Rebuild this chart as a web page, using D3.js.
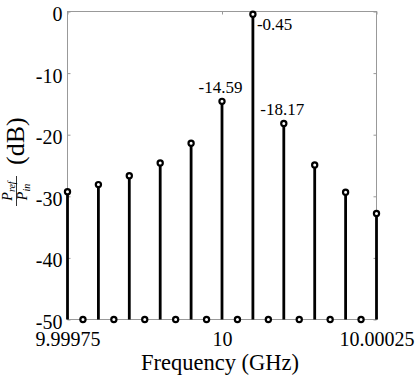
<!DOCTYPE html>
<html>
<head>
<meta charset="utf-8">
<script src="https://cdn.jsdelivr.net/npm/d3@7"></script>
<style>
  body { margin: 0; background: #fff; }
  svg { display: block; }
  svg text { font-family: 'Liberation Serif', 'Times New Roman', serif; fill: #000; }
</style>
</head>
<body>
<div id='chart'></div>
<script>

// Data
const freqs = [9.99975, 9.999775, 9.9998, 9.999825, 9.99985, 9.999875, 9.9999, 9.999925, 9.99995, 9.999975,
               10, 10.000025, 10.00005, 10.000075, 10.0001, 10.000125, 10.00015, 10.000175, 10.0002, 10.000225, 10.00025];
const power = [-29.25, -50, -28.1, -50, -26.65, -50, -24.6, -50, -21.4, -50,
               -14.59, -50, -0.45, -50, -18.17, -50, -24.9, -50, -29.35, -50, -32.8];
const xTicks = [9.99975, 10, 10.00025];
const xTickLabels = ['9.99975', '10', '10.00025'];
const yTicks = [0, -10, -20, -30, -40, -50];
const yTickLabels = ['0', '-10', '-20', '-30', '-40', '-50'];
const notes = [
  {idx: 10, text: '-14.59', pos: 'above'},
  {idx: 12, text: '-0.45', pos: 'right'},
  {idx: 14, text: '-18.17', pos: 'above'}
];

// Page Dimensions
const W = 415, H = 375;
const plot = {left: 67.5, right: 376.5, top: 11.5, bottom: 319.5};
const axisColor = '#999';
const serif = "'Liberation Serif', 'Times New Roman', serif";

const svg = d3.select('div#chart').append('svg')
  .attr('width', W)
  .attr('height', H)
  .attr('font-family', serif);

const x = d3.scaleLinear().domain([9.99975, 10.00025]).range([plot.left, plot.right]);
const y = d3.scaleLinear().domain([-50, 0]).range([plot.bottom, plot.top]);

// Axes (ticks point inward)
const styleAxis = g => {
  g.attr('font-family', serif).attr('font-size', 20);
  g.select('.domain').remove();
  g.selectAll('.tick line').attr('stroke', axisColor);
};

svg.append('g')
  .attr('transform', `translate(${plot.left},0)`)
  .call(d3.axisLeft(y).tickValues(yTicks).tickSize(-3).tickPadding(5)
    .tickFormat((d, i) => yTickLabels[i]))
  .call(styleAxis)
  .call(g => g.selectAll('.tick text').attr('dy', '0.45em'));

svg.append('g')
  .attr('transform', `translate(${plot.right},0)`)
  .call(d3.axisRight(y).tickValues(yTicks).tickSize(-3).tickFormat(''))
  .call(styleAxis);

svg.append('g')
  .attr('transform', `translate(0,${plot.bottom})`)
  .call(d3.axisBottom(x).tickValues(xTicks).tickSize(-3)
    .tickFormat((d, i) => xTickLabels[i]))
  .call(styleAxis)
  .call(g => g.selectAll('.tick text').attr('y', 26.5).attr('dy', 0));

svg.append('g')
  .attr('transform', `translate(0,${plot.top})`)
  .call(d3.axisTop(x).tickValues(xTicks).tickSize(-3).tickFormat(''))
  .call(styleAxis);

// Box
svg.append('rect')
  .attr('x', plot.left)
  .attr('y', plot.top)
  .attr('width', plot.right - plot.left)
  .attr('height', plot.bottom - plot.top)
  .attr('fill', 'none')
  .attr('stroke', axisColor)
  .attr('stroke-width', 1);

// Stems
const pts = freqs.map((f, i) => ({f: f, p: power[i]}));

svg.append('g')
  .selectAll('line')
  .data(pts)
  .enter()
  .append('line')
  .attr('x1', d => x(d.f))
  .attr('x2', d => x(d.f))
  .attr('y1', y(-50))
  .attr('y2', d => y(d.p))
  .attr('stroke', '#000')
  .attr('stroke-width', 2.8);

svg.append('g')
  .selectAll('circle')
  .data(pts)
  .enter()
  .append('circle')
  .attr('cx', d => x(d.f))
  .attr('cy', d => y(d.p))
  .attr('r', 2.6)
  .attr('fill', '#fff')
  .attr('stroke', '#000')
  .attr('stroke-width', 2.2);

// Value labels
svg.append('g')
  .selectAll('text')
  .data(notes)
  .enter()
  .append('text')
  .attr('x', d => d.pos === 'right' ? x(freqs[d.idx]) + 4 : x(freqs[d.idx]) - 1.5)
  .attr('y', d => d.pos === 'right' ? y(power[d.idx]) + 16 : y(power[d.idx]) - 8.5)
  .attr('text-anchor', d => d.pos === 'right' ? 'start' : 'middle')
  .attr('font-size', 17)
  .text(d => d.text);

// X label
svg.append('text')
  .attr('x', (plot.left + plot.right) / 2 - 2)
  .attr('y', 370)
  .attr('text-anchor', 'middle')
  .attr('font-size', 22.5)
  .text('Frequency (GHz)');

// Y label: fraction P_ref / P_in followed by (dB)
const yl = svg.append('g')
  .attr('transform', 'translate(0,207) rotate(-90)');

const num = yl.append('text')
  .attr('x', 16)
  .attr('y', 12)
  .attr('text-anchor', 'middle')
  .attr('font-size', 14)
  .attr('font-style', 'italic');
num.append('tspan').text('P');
num.append('tspan').attr('dy', 2.5).attr('font-size', 10).text('ref');

yl.append('line')
  .attr('x1', 1)
  .attr('x2', 31)
  .attr('y1', 16.5)
  .attr('y2', 16.5)
  .attr('stroke', '#000')
  .attr('stroke-width', 0.8);

const den = yl.append('text')
  .attr('x', 15)
  .attr('y', 27)
  .attr('text-anchor', 'middle')
  .attr('font-size', 14)
  .attr('font-style', 'italic');
den.append('tspan').text('P');
den.append('tspan').attr('dy', 2.5).attr('font-size', 10).text('in');

yl.append('text')
  .attr('x', 42)
  .attr('y', 24)
  .attr('font-size', 26)
  .text('(dB)');

</script>
</body>
</html>
